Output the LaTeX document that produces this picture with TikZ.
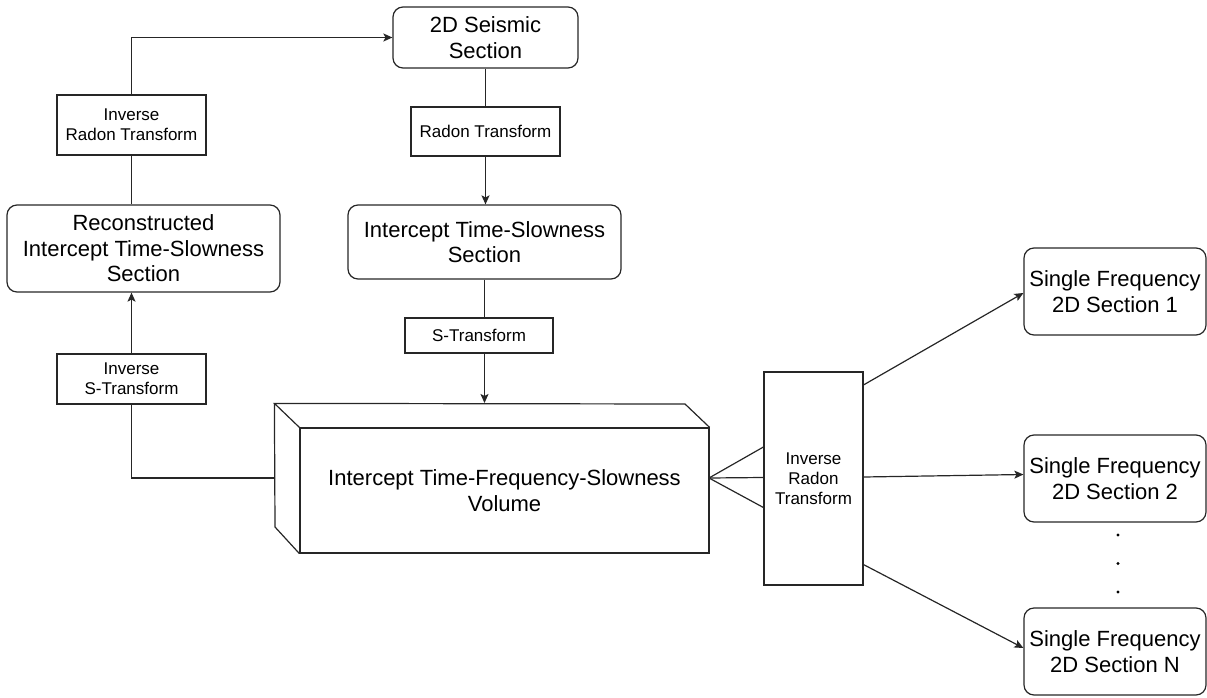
\documentclass[tikz,border=0pt]{standalone}
\usepackage{fontspec}
\setmainfont{Liberation Sans}
\usetikzlibrary{arrows.meta,calc}
\begin{document}
\begin{tikzpicture}[x=1pt,y=-1pt,
  line width=1.2pt, draw=black!85,
  big/.style={font=\fontsize{22}{25.5}\selectfont, align=center, text=black},
  small/.style={font=\fontsize{17}{20}\selectfont, align=center, text=black},
  rbox/.style={draw=black!85, rounded corners=10pt, inner sep=0pt, big},
  sbox/.style={draw=black!85, inner sep=0pt, small},
  arr/.style={-{Stealth[length=9pt,width=8pt,inset=2pt]}},
]
\useasboundingbox (0,0) rectangle (1207,698);

% nodes
\node[rbox, minimum width=185pt, minimum height=61pt] (seis) at (485.5,37.5) {2D Seismic\\Section};
\node[sbox, minimum width=149pt, minimum height=49pt] (radon) at (485.5,131.5) {Radon Transform};
\node[rbox, minimum width=273pt, minimum height=74pt] (its) at (484.5,242) {Intercept Time-Slowness\\Section};
\node[sbox, minimum width=148pt, minimum height=35pt] (stf) at (479,335.5) {S-Transform};

\node[draw=black!85, big, inner sep=0pt, minimum width=409pt, minimum height=125pt] (vol) at (504.5,490.5)
  {Intercept Time-Frequency-Slowness\\Volume};
\draw (vol.north west) -- ++(-25,-24) coordinate (vbtl) -- (685,404) coordinate (vbtr) -- (vol.north east);
\draw (vbtl) -- (275,527) coordinate (vbbl) -- (vol.south west);
\coordinate (volL) at (275,478);
\coordinate (volR) at (709,478);
\coordinate (volT) at (484.5,403);

\node[sbox, minimum width=149pt, minimum height=50pt] (invS) at (131.5,379) {Inverse\\S-Transform};
\node[rbox, minimum width=273pt, minimum height=87pt] (recon) at (143.5,248.5) {Reconstructed\\Intercept Time-Slowness\\Section};
\node[sbox, minimum width=149pt, minimum height=60pt] (invR) at (131.5,125) {Inverse\\Radon Transform};

\node[sbox, minimum width=99pt, minimum height=213pt] (irt) at (813.5,478.5) {Inverse\\Radon\\Transform};

\node[rbox, minimum width=182pt, minimum height=87pt] (sf1) at (1115,291.5) {Single Frequency\\2D Section 1};
\node[rbox, minimum width=182pt, minimum height=87pt] (sf2) at (1115,478.5) {Single Frequency\\2D Section 2};
\node[rbox, minimum width=182pt, minimum height=87pt] (sfN) at (1115,651.5) {Single Frequency\\2D Section N};

% connectors
\draw (seis.south) -- (radon.north);
\draw[arr] (radon.south) -- (radon.south |- its.north);
\draw (its.south) -- (its.south |- stf.north);
\draw[arr] (its.south |- stf.south) -- (volT);
\draw (volL) -| (invS.south);
\draw[arr] (invS.north) -- (invS.north |- recon.south);
\draw (recon.north -| invR.south) -- (invR.south);
\draw[arr] (invR.north) |- (seis.west);

\draw (volR) -- ($(irt.west)+(0,-31.5)$);
\draw (volR) -- ($(irt.west)+(0,-1)$);
\draw (volR) -- ($(irt.west)+(0,29)$);

\draw[arr] ($(irt.north east)+(0,13.5)$) -- ($(sf1.west)+(0,1.5)$);
\draw[arr] ($(irt.east)+(0,-1.5)$) -- ($(sf2.west)+(0,-4)$);
\draw[arr] ($(irt.south east)+(0,-21)$) -- ($(sfN.west)+(0,-3.5)$);

% dots
\fill[black] (1118,535) circle (1.6);
\fill[black] (1118,563.5) circle (1.6);
\fill[black] (1118,592) circle (1.6);
\end{tikzpicture}
\end{document}
